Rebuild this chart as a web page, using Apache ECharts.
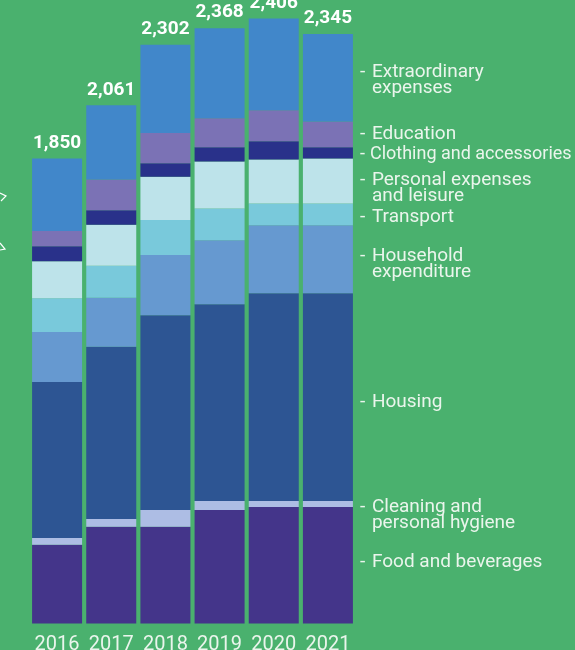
<!DOCTYPE html>
<html>
<head>
<meta charset="utf-8">
<script src="https://cdn.jsdelivr.net/npm/echarts@6/dist/echarts.min.js"></script>
<style>
html,body{margin:0;padding:0;background:#4AB16E;}
#chart{width:575px;height:650px;}
</style>
</head>
<body>
<div id="chart"></div>
<script>
var years = ['2016', '2017', '2018', '2019', '2020', '2021'];
var totals = [1850, 2061, 2302, 2368, 2406, 2345];
var food = [313, 385, 385, 451, 463, 463];
var cleaning = [27, 31, 66, 36, 24, 24];
var housing = [621, 685, 775, 783, 827, 827];
var household = [198, 195, 240, 254, 270, 270];
var transport = [135, 127, 139, 127, 87, 87];
var personal = [147, 163, 172, 187, 175, 179];
var clothing = [60, 58, 54, 56, 72, 44];
var education = [60, 122, 120, 116, 123, 103];
var extraordinary = [289, 295, 351, 358, 365, 348];

var seriesDefs = [
  {name: 'Food and beverages', lines: ['Food and beverages'], data: food, color: '#44358A', dy: -3, fs: 19, dw: 12},
  {name: 'Cleaning and personal hygiene', lines: ['Cleaning and', 'personal hygiene'], data: cleaning, color: '#ADBDE4', dy: 11, fs: 19, dw: 12},
  {name: 'Housing', lines: ['Housing'], data: housing, color: '#2D5593', dy: 5, fs: 19, dw: 12},
  {name: 'Household expenditure', lines: ['Household', 'expenditure'], data: household, color: '#6699D0', dy: 5, fs: 19, dw: 12},
  {name: 'Transport', lines: ['Transport'], data: transport, color: '#79C9DB', dy: 3, fs: 19, dw: 12},
  {name: 'Personal expenses and leisure', lines: ['Personal expenses', 'and leisure'], data: personal, color: '#BDE3EA', dy: 7, fs: 19, dw: 12},
  {name: 'Clothing and accessories', lines: ['Clothing and accessories'], data: clothing, color: '#29318A', dy: 2, fs: 18, dw: 10},
  {name: 'Education', lines: ['Education'], data: education, color: '#7B72B5', dy: 0, fs: 19, dw: 12},
  {name: 'Extraordinary expenses', lines: ['Extraordinary', 'expenses'], data: extraordinary, color: '#4187CA', dy: 3, fs: 19, dw: 12}
];

var textColor = '#EAF5EC';
var series = seriesDefs.map(function (s) {
  var fmt = s.lines.map(function (l, i) {
    return (i === 0 ? '{d|-}' : '{d| }') + '{t|' + l + '}';
  }).join('\n');
  var data = s.data.map(function (v, i) {
    if (i === s.data.length - 1) {
      return {
        value: v,
        label: {
          show: true,
          position: 'right',
          distance: 7,
          offset: [0, s.dy],
          formatter: fmt,
          rich: {
            d: {width: s.dw, fontSize: s.fs, fontFamily: 'Roboto', color: textColor, lineHeight: 16},
            t: {fontSize: s.fs, fontFamily: 'Roboto', color: textColor, lineHeight: 16}
          }
        }
      };
    }
    return v;
  });
  return {
    name: s.name,
    type: 'bar',
    stack: 'total',
    barWidth: 50,
    itemStyle: {color: s.color},
    emphasis: {disabled: true},
    data: data
  };
});

series.push({
  name: 'Total',
  type: 'line',
  data: totals,
  symbol: 'circle',
  symbolSize: 2,
  showSymbol: true,
  itemStyle: {color: 'rgba(0,0,0,0)'},
  lineStyle: {width: 0, color: 'rgba(0,0,0,0)'},
  label: {
    show: true,
    position: 'top',
    distance: 5,
    color: '#FFFFFF',
    fontSize: 19,
    fontWeight: 'bold',
    fontFamily: 'Roboto',
    formatter: function (p) { return Number(p.value).toLocaleString('en-US'); }
  },
  labelLayout: {hideOverlap: false},
  z: 10
});

var chart = echarts.init(document.getElementById('chart'), null, {renderer: 'canvas'});
chart.setOption({
  backgroundColor: '#4AB16E',
  animation: false,
  grid: {left: 30, right: 220, top: 0, bottom: 26.5, containLabel: false, outerBoundsMode: 'none'},
  xAxis: {
    type: 'category',
    data: years,
    axisLine: {show: false},
    axisTick: {show: false},
    axisLabel: {color: textColor, fontSize: 20, fontFamily: 'Roboto', margin: 11, interval: 0}
  },
  yAxis: {
    type: 'value',
    min: 0,
    max: 2480,
    show: false,
    splitLine: {show: false}
  },
  graphic: [
    {type: 'polyline', shape: {points: [[0, 193], [6, 196], [1, 201]]}, style: {stroke: '#FFFFFF', lineWidth: 1.2, fill: null}},
    {type: 'polyline', shape: {points: [[0, 243], [5, 249], [0, 250]]}, style: {stroke: '#FFFFFF', lineWidth: 1.2, fill: null}}
  ],
  series: series
});
</script>
</body>
</html>
